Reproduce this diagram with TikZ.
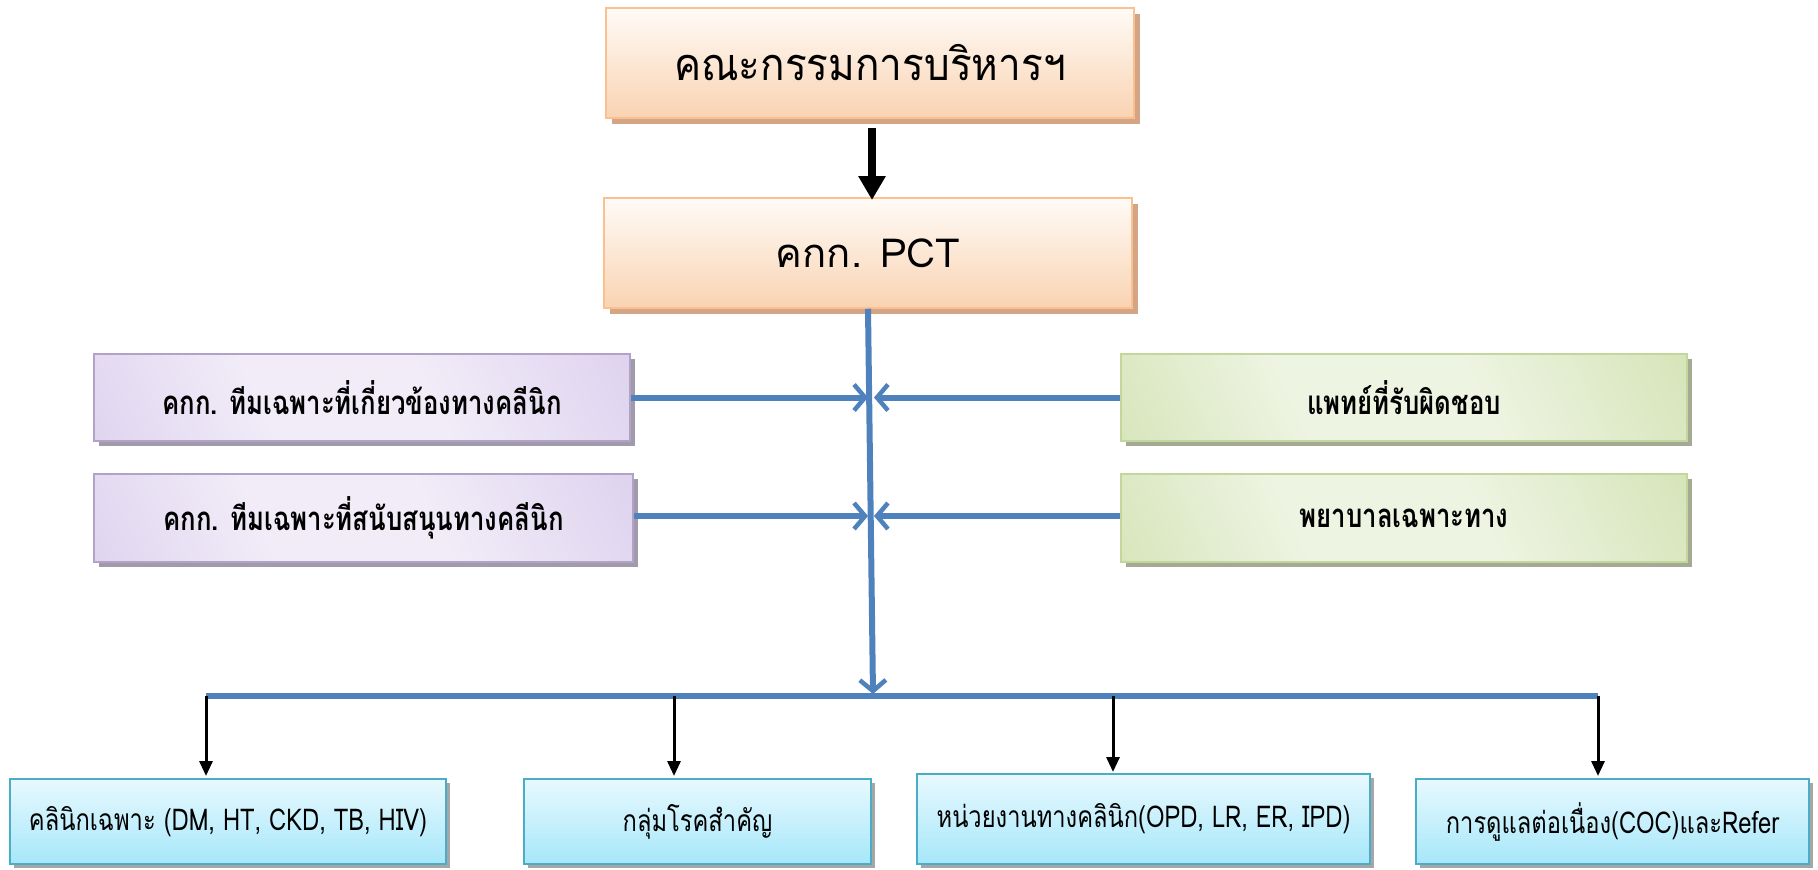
\documentclass[tikz,border=0pt]{standalone}
\usepackage{fontspec}
\newfontfamily\thai[Script=Thai]{Loma}
\newfontfamily\thaitop[Script=Thai,FakeStretch=0.9]{Loma}
\newfontfamily\thaimid[Script=Thai,FakeStretch=0.78]{Loma}
\newfontfamily\thaibot[Script=Thai,FakeStretch=0.79]{Loma}
\usetikzlibrary{arrows.meta,shadows}
\definecolor{blueline}{HTML}{4F81BD}
\definecolor{orborder}{HTML}{FAC090}
\definecolor{ortop}{HTML}{FFFBF7}
\definecolor{orbot}{HTML}{F9D3B2}
\definecolor{orshadow}{HTML}{D3A584}
\definecolor{puborder}{HTML}{B3A2C7}
\definecolor{pudark}{HTML}{D2C2E8}
\definecolor{pulight}{HTML}{F1ECF8}
\definecolor{grborder}{HTML}{C3D69B}
\definecolor{grdark}{HTML}{C6DA9E}
\definecolor{grlight}{HTML}{EEF4E2}
\definecolor{cyborder}{HTML}{4BACC6}
\definecolor{cytop}{HTML}{E8F9FE}
\definecolor{cybot}{HTML}{A6E7FA}
\definecolor{pushadow}{HTML}{A09AAA}
\definecolor{grshadow}{HTML}{A4AA94}
\pgfdeclarehorizontalshading{pushade}{100bp}{color(0bp)=(pudark); color(38bp)=(pulight); color(58bp)=(pulight); color(100bp)=(pudark)}
\pgfdeclarehorizontalshading{grshade}{100bp}{color(0bp)=(grdark); color(38bp)=(grlight); color(58bp)=(grlight); color(100bp)=(grdark)}
\tikzset{
  boxbase/.style={rectangle, inner sep=0pt, line width=1.5pt, align=center, font=\thai},
  orbox/.style={boxbase, draw=orborder, top color=ortop, bottom color=orbot,
    general shadow={shadow xshift=6pt, shadow yshift=-6pt, fill=orshadow}},
  pubox/.style={boxbase, draw=puborder, shading=pushade, shading angle=25,
    general shadow={shadow xshift=5pt, shadow yshift=-5pt, fill=pushadow}, font=\thaimid\bfseries\fontsize{33}{36}\selectfont},
  grbox/.style={boxbase, draw=grborder, shading=grshade, shading angle=25,
    general shadow={shadow xshift=5pt, shadow yshift=-5pt, fill=grshadow}, font=\thaimid\bfseries\fontsize{33}{36}\selectfont},
  cybox/.style={boxbase, draw=cyborder, top color=cytop, bottom color=cybot,
    general shadow={shadow xshift=4pt, shadow yshift=-4pt, fill=gray!70}, font=\thaibot\fontsize{30}{34}\selectfont},
  blueln/.style={draw=blueline, line width=6pt},
  bluearr/.style={blueln, -{Straight Barb[length=11pt,width=26pt,line width=4.5pt]}},
  blackarr/.style={draw=black, line width=3pt, -{Triangle[length=15pt,width=13pt]}},
}
\begin{document}
\begin{tikzpicture}[x=1pt,y=-1pt]
\useasboundingbox (0,0) rectangle (1818,870);
\node[orbox, minimum width=528pt, minimum height=110pt, font=\thaitop\fontsize{45}{50}\selectfont] (top) at (870,63) {คณะกรรมการบริหารฯ};
\node[orbox, minimum width=528pt, minimum height=110pt, font=\thai\fontsize{40}{46}\selectfont] (pct) at (868,253) {คกก. PCT};
\node[pubox, minimum width=536pt, minimum height=87pt] (p1) at (362,397.5) {คกก. ทีมเฉพาะที่เกี่ยวข้องทางคลีนิก};
\node[pubox, minimum width=539pt, minimum height=88pt] (p2) at (363.5,518) {คกก. ทีมเฉพาะที่สนับสนุนทางคลีนิก};
\node[grbox, minimum width=566pt, minimum height=87pt] (g1) at (1404,397.5) {แพทย์ที่รับผิดชอบ};
\node[grbox, minimum width=566pt, minimum height=88pt] (g2) at (1404,518) {พยาบาลเฉพาะทาง};
\node[cybox, minimum width=436pt, minimum height=85pt] (b1) at (228,821.5) {คลินิกเฉพาะ (DM, HT, CKD, TB, HIV)};
\node[cybox, minimum width=347pt, minimum height=85pt] (b2) at (697.5,821.5) {กลุ่มโรคสำคัญ};
\node[cybox, minimum width=453pt, minimum height=90pt] (b3) at (1143.5,819) {หน่วยงานทางคลินิก(OPD, LR, ER, IPD)};
\node[cybox, minimum width=393pt, minimum height=85pt] (b4) at (1612.5,821.5) {การดูแลต่อเนื่อง(COC)และRefer};
% coordinates
\coordinate (bl) at (206,696);
\coordinate (br) at (1598,696);
\coordinate (bm) at (873,694);
\coordinate (j1) at (868,397.5);
\coordinate (j1r) at (874,397.5);
\coordinate (j2) at (868,516);
\coordinate (j2r) at (874,516);
% top arrow
\draw[draw=black, line width=8pt, -{Triangle[length=24pt,width=26pt]}] (872,128) -- (872,200);
% blue trunk
\draw[blueln] (bl) -- (br);
\draw[bluearr] (pct.south) -- (bm);
\draw[bluearr] (p1.east) -- (j1);
\draw[bluearr] (g1.west) -- (j1r);
\draw[bluearr] (p2.east |- j2) -- (j2);
\draw[bluearr] (g2.west |- j2) -- (j2r);
% black arrows down
\draw[blackarr] (bl) -- (206,776);
\draw[blackarr] (674,696) -- (674,776);
\draw[blackarr] (1113,696) -- (1113,772);
\draw[blackarr] (br) -- (1598,776);
\end{tikzpicture}
\end{document}
